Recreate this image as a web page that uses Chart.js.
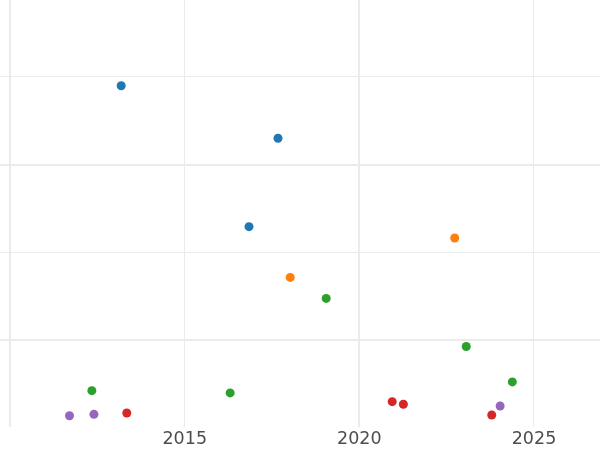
<!DOCTYPE html>
<html>
<head>
<meta charset="utf-8">
<script src="https://cdn.jsdelivr.net/npm/chart.js@4"></script>
<style>
  html, body { margin: 0; padding: 0; background: #fff; }
  #wrap { width: 600px; height: 450px; }
</style>
</head>
<body>
<div id="wrap"><canvas id="scatterChart"></canvas></div>
<script>
// values (year, value)
const blueX = [2013.18, 2017.67, 2016.84];
const blueY = [39.0, 33.0, 22.9];
const orangeX = [2018.02, 2022.73];
const orangeY = [17.1, 21.6];
const greenX = [2012.34, 2016.30, 2019.05, 2023.06, 2024.38];
const greenY = [4.15, 3.9, 14.7, 9.2, 5.15];
const redX = [2013.34, 2020.94, 2021.26, 2023.79];
const redY = [1.6, 2.9, 2.6, 1.37];
const purpleX = [2011.70, 2012.40, 2024.03];
const purpleY = [1.29, 1.45, 2.4];

const xGridYears = [2010, 2015, 2020, 2025];
const xTickLabels = ['2015', '2020', '2025'];
const yGridValues = [10, 20, 30, 40];

const toPoints = (xs, ys) => xs.map((x, i) => ({ x: x, y: ys[i] }));

const series = [
    { name: 'blue', xs: blueX, ys: blueY, color: '#1f77b4' },
    { name: 'orange', xs: orangeX, ys: orangeY, color: '#ff7f0e' },
    { name: 'green', xs: greenX, ys: greenY, color: '#2ca02c' },
    { name: 'red', xs: redX, ys: redY, color: '#d62728' },
    { name: 'purple', xs: purpleX, ys: purpleY, color: '#9467bd' },
];

const ctx = document.getElementById('scatterChart');

new Chart(ctx, {
    type: 'scatter',
    data: {
        datasets: series.map(s => ({
            label: s.name,
            data: toPoints(s.xs, s.ys),
            backgroundColor: s.color,
            borderWidth: 0,
            pointRadius: 4.5,
        }))
    },
    options: {
        responsive: true,
        maintainAspectRatio: false,
        animation: false,
        layout: { padding: 0, autoPadding: false },
        scales: {
            x: {
                type: 'linear',
                min: 2009.71,
                max: 2026.89,
                afterBuildTicks: (scale) => {
                    scale.ticks = xGridYears.map(v => ({ value: v }));
                },
                afterFit: (scale) => { scale.height = 23; },
                border: { display: false },
                grid: {
                    drawTicks: false,
                    color: '#ebebeb',
                    lineWidth: (c) => (c.tick && c.tick.value % 10 === 0) ? 2 : 1,
                },
                ticks: {
                    autoSkip: false,
                    maxRotation: 0,
                    padding: 2,
                    color: '#4d4d4d',
                    font: { size: 17.5, family: 'DejaVu Sans' },
                    callback: (value) => xTickLabels.includes(String(value)) ? String(value) : '',
                },
            },
            y: {
                type: 'linear',
                min: 0,
                max: 48.8,
                afterBuildTicks: (scale) => {
                    scale.ticks = yGridValues.map(v => ({ value: v }));
                },
                afterFit: (scale) => { scale.width = 0; },
                border: { display: false },
                grid: {
                    drawTicks: false,
                    color: '#ebebeb',
                    lineWidth: (c) => (c.tick && c.tick.value % 20 === 10) ? 2 : 1,
                },
                ticks: { display: false },
            },
        },
        plugins: {
            legend: { display: false },
            tooltip: { enabled: false },
            title: { display: false },
        }
    }
});
</script>
</body>
</html>
